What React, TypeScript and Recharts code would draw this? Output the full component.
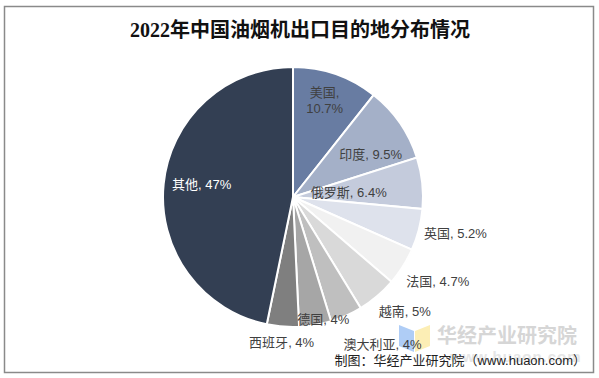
import React from 'react'
import { PieChart, Pie, Cell } from 'recharts'

const countries = ['美国', '印度', '俄罗斯', '英国', '法国', '越南', '澳大利亚', '德国', '西班牙', '其他']
const shares = [10.7, 9.5, 6.4, 5.2, 4.7, 5, 4, 4, 4, 47]
const colors = ['#687CA2', '#A4B0C8', '#C4CBDC', '#DEE2EC', '#F1F1F1', '#D9D9D9', '#BFBFBF', '#A6A6A6', '#7F7F7F', '#333F53']

const data = countries.map((name, i) => ({ name, value: shares[i] }))

// label placement: radius factor and angle nudge (deg, clockwise) per slice
const labelRadius = [0.78, 0.68, 0.43, 1.28, 1.29, 1.23, 1.33, 0.97, 1.12, 0.71]
const labelNudge = [-1, 6, 2, -2, -2, -4, -7, -4, 0, 2]

const font = '"Liberation Sans", Arial, "Noto Sans CJK SC", sans-serif'

const renderLabel = (p: any) => {
  const { cx, cy, midAngle, outerRadius, index, name, value } = p
  const theta = ((90 - midAngle + labelNudge[index]) * Math.PI) / 180
  const r = outerRadius * labelRadius[index]
  const x = cx + r * Math.sin(theta)
  const y = cy - r * Math.cos(theta)
  const fill = index === countries.length - 1 ? '#ffffff' : '#404040'
  if (index === 0) {
    return (
      <text x={x} y={y} textAnchor="middle" fill={fill} fontSize={13} fontFamily={font}>
        <tspan x={x} dy="-0.3em">{name},</tspan>
        <tspan x={x} dy="1.25em">{value}%</tspan>
      </text>
    )
  }
  return (
    <text x={x} y={y} textAnchor="middle" dominantBaseline="central" fill={fill} fontSize={13} fontFamily={font}>
      {name}, {value}%
    </text>
  )
}

export default function App() {
  return (
    <div style={{ position: 'absolute', left: 0, top: 0, width: 599, height: 378, background: '#fff' }}>
      <svg width={599} height={378} style={{ position: 'absolute', left: 0, top: 0 }}>
        <rect x={4.5} y={6.5} width={589} height={366} fill="#fff" stroke="#8a8a8a" strokeWidth={1.5} />
        <text x={300} y={37} textAnchor="middle" fontSize={20} fontWeight="bold" fill="#111"
          fontFamily={'"Liberation Serif", "Times New Roman", "Noto Sans CJK SC", serif'}>
          2022年中国油烟机出口目的地分布情况
        </text>
        <polygon points="399,325 414,331 414,352 399,346" fill="#AFCDF6" />
        <polygon points="415,331 430,325 430,346 415,352" fill="#FCEEB5" />
        <text x={437} y={343} fontSize={20} fontWeight="bold" fill="#D6D6D6" fontFamily={font}>华经产业研究院</text>
        <text x={450} y={362} fontSize={15} fontWeight="bold" fill="#E6E6E6" fontFamily={font} letterSpacing={1}>www.huaon.com</text>
      </svg>
      <div style={{ position: 'absolute', left: 0, top: 0 }}>
        <PieChart width={599} height={378} margin={{ top: 0, right: 0, bottom: 0, left: 0 }}>
          <Pie
            data={data}
            dataKey="value"
            nameKey="name"
            cx={293}
            cy={197}
            outerRadius={130}
            startAngle={90}
            endAngle={-270}
            stroke="#ffffff"
            strokeWidth={2}
            label={renderLabel}
            labelLine={false}
            isAnimationActive={false}
          >
            {data.map((d, i) => (
              <Cell key={d.name} fill={colors[i]} />
            ))}
          </Pie>
        </PieChart>
      </div>
      <svg width={599} height={378} style={{ position: 'absolute', left: 0, top: 0, pointerEvents: 'none' }}>
        <text x={586} y={365} textAnchor="end" fontSize={13} fill="#222" fontFamily={font}>
          制图：华经产业研究院（www.huaon.com）
        </text>
      </svg>
    </div>
  )
}
